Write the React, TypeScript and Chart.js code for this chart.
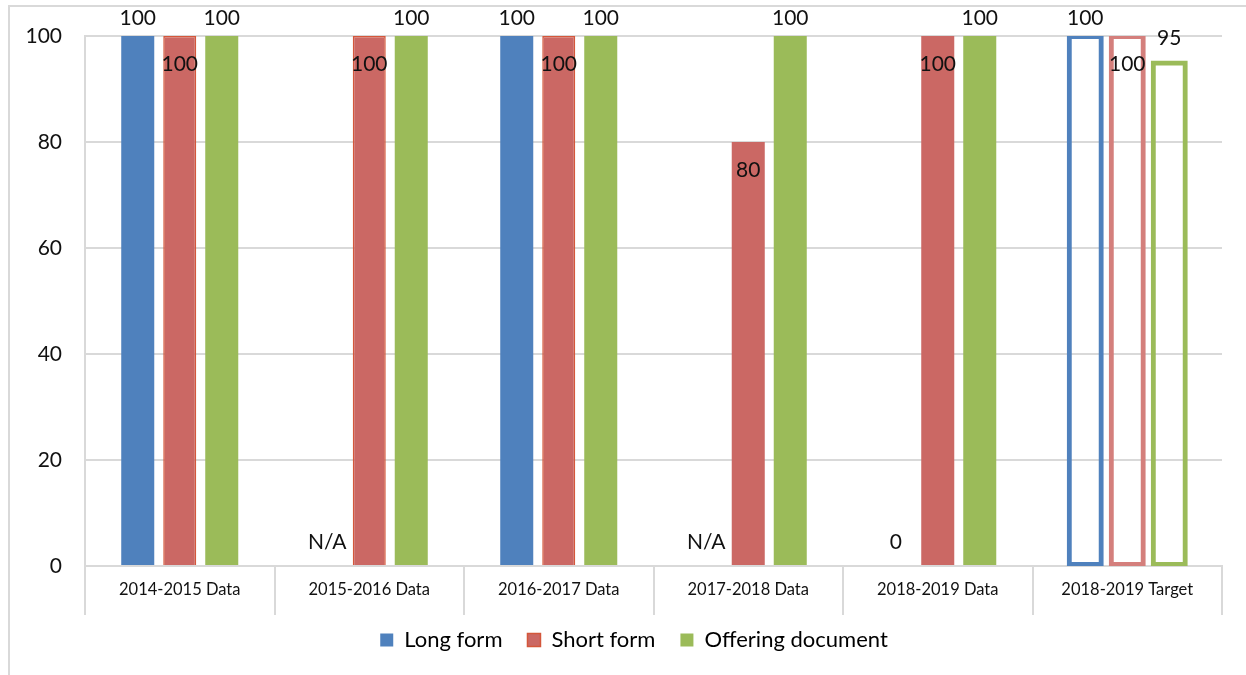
import React, { useEffect, useRef } from "react";
import { Chart, registerables } from "chart.js";

Chart.register(...registerables);

// ---- data ----
const categories = [
  "2014-2015 Data",
  "2015-2016 Data",
  "2016-2017 Data",
  "2017-2018 Data",
  "2018-2019 Data",
  "2018-2019 Target",
];
const longForm: (number | null)[] = [100, null, 100, null, 0, 100];
const longFormLabels = ["100", "N/A", "100", "N/A", "0", "100"];
const shortForm = [100, 100, 100, 80, 100, 100];
const offeringDocument = [100, 100, 100, 100, 100, 95];
const yTicks = [0, 20, 40, 60, 80, 100];

// ---- style ----
const FONT = "Lato, 'Noto Sans', sans-serif";
const BLUE = "#4F81BD";
const RED = "#CB6864";
const RED_EDGE = "#D4573B";
const RED_TARGET = "#D47F7C";
const GREEN = "#9BBB59";
const GRID = "#D9D9D9";
const TARGET_INDEX = categories.length - 1;

type LabelMode = "outside" | "inside";

// Value labels: long form / offering above the bar, short form just inside its top.
const valueLabels = {
  id: "valueLabels",
  afterDatasetsDraw(chart: any) {
    const { ctx } = chart;
    const y = chart.scales.y;
    ctx.save();
    ctx.font = `21px ${FONT}`;
    ctx.fillStyle = "#111";
    ctx.textAlign = "center";
    ctx.textBaseline = "middle";
    chart.data.datasets.forEach((ds: any, di: number) => {
      const meta = chart.getDatasetMeta(di);
      const mode: LabelMode = ds.labelMode;
      meta.data.forEach((el: any, i: number) => {
        const v = ds.data[i];
        const text = ds.labelTexts ? ds.labelTexts[i] : String(v);
        const top = y.getPixelForValue(v ?? 0);
        const cy = mode === "inside" ? top + 28 : Math.max(top - 24, 18);
        ctx.fillText(text, el.x, cy);
      });
    });
    ctx.restore();
  },
};

// The legend sits centred on the whole frame rather than the padded layout width.
const legendShift = {
  id: "legendShift",
  afterLayout(chart: any) {
    if (chart.legend) {
      chart.legend.left += 23;
      chart.legend.right += 23;
    }
  },
};

const isTarget = (c: any) => c.dataIndex === TARGET_INDEX;

export default function App() {
  const ref = useRef<HTMLCanvasElement | null>(null);

  useEffect(() => {
    if (!ref.current) return;
    const chart = new Chart(ref.current, {
      type: "bar",
      data: {
        labels: categories,
        datasets: [
          {
            label: "Long form",
            data: longForm,
            labelTexts: longFormLabels,
            labelMode: "outside",
            backgroundColor: (c: any) => (isTarget(c) ? "rgba(0,0,0,0)" : BLUE),
            borderColor: BLUE,
            borderWidth: (c: any) => (isTarget(c) ? 1 : 0),
            inflateAmount: (c: any) => (isTarget(c) ? 2 : 0),
            borderSkipped: (c: any) => (isTarget(c) ? false : "start"),
          } as any,
          {
            label: "Short form",
            data: shortForm,
            labelMode: "inside",
            backgroundColor: (c: any) => (isTarget(c) ? "rgba(0,0,0,0)" : RED),
            borderColor: (c: any) => (isTarget(c) ? RED_TARGET : RED_EDGE),
            borderWidth: (c: any) => (isTarget(c) ? 1 : c.dataIndex < 3 ? 1.5 : 0),
            inflateAmount: (c: any) => (isTarget(c) ? 2 : 0),
            borderSkipped: (c: any) => (isTarget(c) ? false : "start"),
          } as any,
          {
            label: "Offering document",
            data: offeringDocument,
            labelMode: "outside",
            backgroundColor: (c: any) => (isTarget(c) ? "rgba(0,0,0,0)" : GREEN),
            borderColor: GREEN,
            borderWidth: (c: any) => (isTarget(c) ? 1 : 0),
            inflateAmount: (c: any) => (isTarget(c) ? 2 : 0),
            borderSkipped: (c: any) => (isTarget(c) ? false : "start"),
          } as any,
        ],
      },
      options: {
        animation: false,
        responsive: true,
        maintainAspectRatio: false,
        categoryPercentage: 0.665,
        barPercentage: 0.786,
        layout: { padding: { left: 0, top: 36, right: 24, bottom: 14 } },
        plugins: {
          tooltip: { enabled: false },
          legend: {
            position: "bottom",
            labels: {
              font: { family: FONT, size: 22 },
              color: "#111",
              boxWidth: 13,
              boxHeight: 13,
              padding: 25,
              generateLabels: () => [
                { text: "Long form", fillStyle: BLUE, strokeStyle: BLUE, lineWidth: 0, datasetIndex: 0 },
                { text: "Short form", fillStyle: RED, strokeStyle: RED_EDGE, lineWidth: 1.5, datasetIndex: 1 },
                { text: "Offering document", fillStyle: GREEN, strokeStyle: GREEN, lineWidth: 0, datasetIndex: 2 },
              ] as any,
            },
          },
        },
        scales: {
          x: {
            grid: {
              offset: true,
              drawOnChartArea: false,
              drawTicks: true,
              tickLength: 49,
              color: GRID,
              lineWidth: 2,
            },
            border: { display: true, color: GRID, width: 2 },
            ticks: {
              font: { family: FONT, size: 16.5 },
              color: "#111",
              padding: -35,
              maxRotation: 0,
              autoSkip: false,
            },
            afterFit: (s: any) => {
              s.height = 38;
            },
          },
          y: {
            min: 0,
            max: 100,
            afterBuildTicks: (s: any) => {
              s.ticks = yTicks.map((v) => ({ value: v }));
            },
            grid: { color: GRID, lineWidth: 2, drawTicks: false },
            border: { display: true, color: GRID, width: 2 },
            ticks: {
              font: { family: FONT, size: 21 },
              color: "#111",
              padding: 23,
            },
            afterFit: (s: any) => {
              s.width = 85;
            },
          },
        },
      } as any,
      plugins: [valueLabels, legendShift],
    });
    return () => chart.destroy();
  }, []);

  return (
    <div style={{ position: "fixed", left: 0, top: 0, width: 1246, height: 675, background: "#fff" }}>
      <div
        style={{
          position: "absolute",
          left: 8,
          top: 5,
          right: -10,
          bottom: -10,
          borderLeft: `2px solid ${GRID}`,
          borderTop: `2px solid ${GRID}`,
        }}
      />
      <canvas ref={ref} style={{ position: "absolute", left: 0, top: 0 }} />
    </div>
  );
}
